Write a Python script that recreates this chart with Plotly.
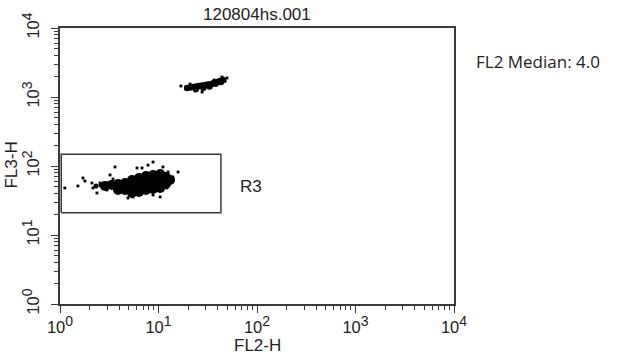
import plotly.graph_objects as go

# ---------------- data ----------------
title_text = "120804hs.001"
x_label = "FL2-H"
y_label = "FL3-H"
gate_name = "R3"
stat_text = "FL2 Median: 4.0"

decade_vals = [1, 10, 100, 1000, 10000]
decade_exp = ["0", "1", "2", "3", "4"]
minor_vals = [m * d for d in [1, 10, 100, 1000] for m in range(2, 10)]

# gate R3 (FL2 range, FL3 range)
gate_fl2 = [1.03, 43]
gate_fl3 = [21, 148]

# dense core of the lower population
low_core_fl2 = [2.86, 3.37, 3.88, 3.88, 4.57, 4.57, 5.38, 5.38, 5.38, 6.34, 6.34, 6.34,
                7.46, 7.46, 7.46, 8.80, 8.80, 8.80, 10.4, 10.4, 10.4, 11.9, 11.9, 13.1]
low_core_fl3 = [51.3, 53.0, 54.8, 44.9, 56.7, 44.9, 62.7, 49.6, 40.6, 67.0, 53.0, 42.0,
                71.6, 56.7, 44.9, 74.1, 58.6, 46.4, 76.6, 60.6, 48.0, 69.3, 54.8, 62.7]
# tail of the lower population
low_tail_fl2 = [2.32, 2.61, 3.00, 3.22]
low_tail_fl3 = [51.3, 53.0, 49.6, 56.7]
# scattered events of the lower population
low_sparse_fl2 = [1.12, 1.52, 1.71, 1.79, 2.11, 2.16, 2.37, 2.55, 2.73, 3.07, 3.22, 3.62, 3.45, 3.00,
                  8.8, 7.82, 6.80, 11.1, 12.5, 15.8, 14.0, 13.1, 12.2, 10.4, 5.51, 4.90, 6.05, 8.8]
low_sparse_fl3 = [48.0, 51.3, 67.0, 60.6, 56.7, 48.0, 40.6, 56.7, 49.6, 56.7, 74.1, 96.8, 64.8, 44.9,
                  114, 103, 93.5, 96.8, 81.9, 81.9, 69.3, 56.7, 48.0, 35.6, 35.6, 34.4, 93.5, 38.0]

# upper population
up_core_fl2 = [19.5, 21.0, 22.4, 24.0, 25.8, 27.7, 29.7, 31.8, 34.1, 36.6, 39.3, 42.1, 45.2,
               24.0, 28.5, 33.0, 38.0, 43.0]
up_core_fl3 = [1350, 1370, 1397, 1420, 1444, 1470, 1493, 1520, 1543, 1600, 1649, 1700, 1763,
               1306, 1360, 1420, 1560, 1650]
up_sparse_fl2 = [16.9, 23.5, 27.7, 44.1, 49.6, 20.9, 36.6, 47.5]
up_sparse_fl3 = [1444, 1222, 1182, 1950, 1885, 1543, 1763, 1700]

# ---------------- figure ----------------
line_col = "#3a3a3a"
font_main = "Liberation Sans, Arial, sans-serif"
decade_text = ["10<sup><span style='font-size:14px'>%s</span></sup>" % e for e in decade_exp]

fig = go.Figure()
fig.add_trace(go.Scatter(x=low_core_fl2, y=low_core_fl3, mode="markers",
                         marker=dict(size=10, color="black", line=dict(width=0)), hoverinfo="skip"))
fig.add_trace(go.Scatter(x=low_tail_fl2, y=low_tail_fl3, mode="markers",
                         marker=dict(size=5, color="black", line=dict(width=0)), hoverinfo="skip"))
fig.add_trace(go.Scatter(x=low_sparse_fl2, y=low_sparse_fl3, mode="markers",
                         marker=dict(size=2.8, color="black", symbol="square", line=dict(width=0)),
                         hoverinfo="skip"))
fig.add_trace(go.Scatter(x=up_core_fl2, y=up_core_fl3, mode="markers",
                         marker=dict(size=6.5, color="black", line=dict(width=0)), hoverinfo="skip"))
fig.add_trace(go.Scatter(x=up_sparse_fl2, y=up_sparse_fl3, mode="markers",
                         marker=dict(size=2.8, color="black", symbol="square", line=dict(width=0)),
                         hoverinfo="skip"))
# gate rectangle
fig.add_trace(go.Scatter(
    x=[gate_fl2[0], gate_fl2[1], gate_fl2[1], gate_fl2[0], gate_fl2[0]],
    y=[gate_fl3[0], gate_fl3[0], gate_fl3[1], gate_fl3[1], gate_fl3[0]],
    mode="lines", line=dict(color=line_col, width=1.5), hoverinfo="skip"))

axis_common = dict(
    type="log", range=[0, 4], showgrid=False, zeroline=False, automargin=False,
    showline=True, linecolor=line_col, linewidth=1.5, mirror=True,
    ticks="outside", ticklen=7, tickwidth=1.2, tickcolor=line_col,
    tickmode="array", tickvals=decade_vals, ticktext=decade_text,
    tickfont=dict(family=font_main, size=16.5, color="#222"),
    minor=dict(tickmode="array", tickvals=minor_vals, ticks="outside", ticklen=4,
               tickwidth=1, tickcolor=line_col, showgrid=False),
)

fig.update_layout(
    width=630, height=357, autosize=False,
    margin=dict(l=60, r=176, t=28, b=53),
    paper_bgcolor="white", plot_bgcolor="white",
    showlegend=False,
    xaxis=dict(**axis_common, ticklabelstandoff=0),
    yaxis=dict(**axis_common, tickangle=-90, ticklabelstandoff=6),
    annotations=[
        dict(text=title_text, xref="paper", yref="paper", x=0.5, y=1.049, showarrow=False,
             xanchor="center", yanchor="middle", font=dict(family=font_main, size=17, color="#222")),
        dict(text=x_label, xref="paper", yref="paper", x=0.5, y=-0.150, showarrow=False,
             xanchor="center", yanchor="middle", font=dict(family=font_main, size=17, color="#222")),
        dict(text=y_label, xref="paper", yref="paper", x=-0.122, y=0.505, showarrow=False,
             textangle=-90, xanchor="center", yanchor="middle",
             font=dict(family=font_main, size=17, color="#222")),
        dict(text=gate_name, xref="paper", yref="paper", x=0.485, y=0.4275, showarrow=False,
             xanchor="center", yanchor="middle", font=dict(family=font_main, size=17, color="#222")),
        dict(text=stat_text, xref="paper", yref="paper", x=1.212, y=0.880, showarrow=False,
             xanchor="center", yanchor="middle", font=dict(family="Open Sans, sans-serif", size=17, color="#222")),
    ],
)

fig.write_html("out.html", config={"displayModeBar": False},
               post_script="document.body.style.margin='0';document.body.style.overflow='hidden';")
